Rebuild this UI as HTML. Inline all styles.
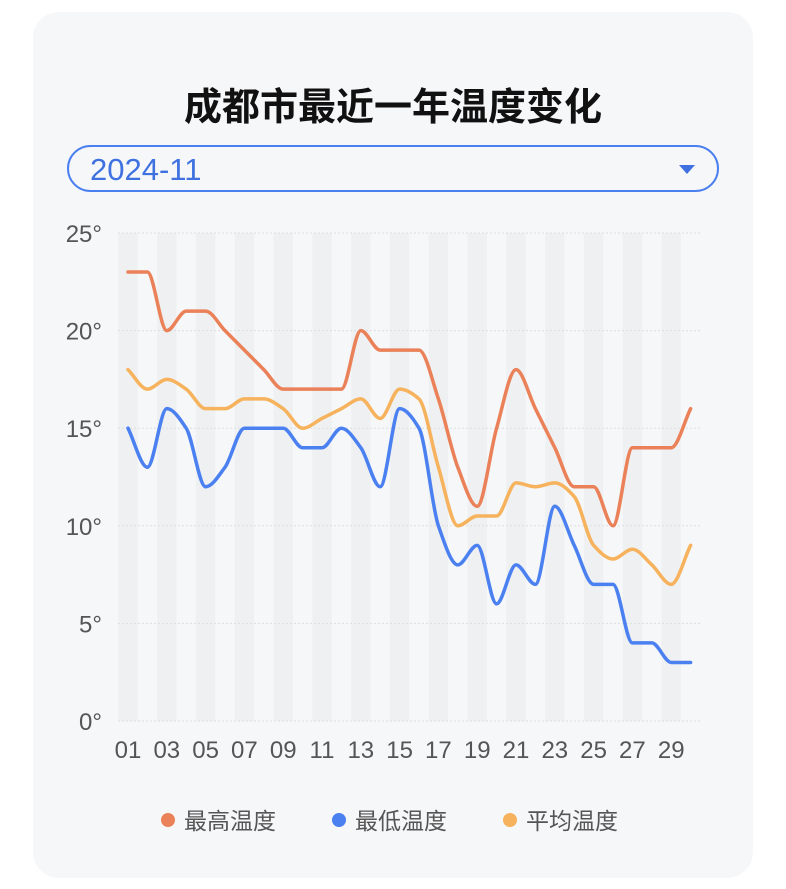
<!DOCTYPE html>
<html><head><meta charset="utf-8"><style>
body{margin:0;width:786px;height:889px;background:#fff;font-family:"Liberation Sans","Noto Sans CJK SC",sans-serif;overflow:hidden}
.card{position:absolute;left:33px;top:12px;width:720px;height:866px;background:#f6f7f9;border-radius:26px}
.title{position:absolute;left:0;top:76px;width:786px;text-align:center;font-size:38px;font-weight:bold;color:#111}
.dd{position:absolute;left:67px;top:145px;height:47px;border:2px solid #4a7ff0;border-radius:24px;box-sizing:border-box;width:652px}
.dd span{position:absolute;left:21px;top:5px;font-size:31px;color:#3f72e0}
.dd i{position:absolute;right:22px;top:18px;border-left:8px solid transparent;border-right:8px solid transparent;border-top:9px solid #3f72e0}
svg{position:absolute;left:0;top:0}
</style></head><body>
<div class="card"></div>
<div class="title">成都市最近一年温度变化</div>
<div class="dd"><span>2024-11</span><i></i></div>
<svg id="s" width="786" height="889" font-family="Liberation Sans, Noto Sans CJK SC, sans-serif"></svg>
<script>
var s=document.getElementById('s'),h='';
function X(d){return 128+(d-1)*19.4}
function Y(v){return 721-v*19.52}
for(var d=1;d<=30;d+=2)h+='<rect x="'+(X(d)-9.7)+'" y="233" width="19.4" height="488" fill="#eff0f2"/>';
for(var v=0;v<=25;v+=5){h+='<line x1="118" x2="702" y1="'+Y(v)+'" y2="'+Y(v)+'" stroke="#dcdde0" stroke-dasharray="2,2"/>';
h+='<text x="102" y="'+(Y(v)+9)+'" font-size="24" fill="#555" text-anchor="end">'+v+'°</text>';}
for(var d=1;d<=29;d+=2)h+='<text x="'+X(d)+'" y="758" font-size="24" fill="#555" text-anchor="middle">'+(d<10?'0'+d:d)+'</text>';
var mx=[23,23,20,21,21,20,19,18,17,17,17,17,20,19,19,19,16.5,13,11,15,18,16,14,12,12,10,14,14,14,16];
var mn=[15,13,16,15,12,13,15,15,15,14,14,15,14,12,16,15,10,8,9,6,8,7,11,9,7,7,4,4,3,3];
var av=[18,17,17.5,17,16,16,16.5,16.5,16,15,15.5,16,16.5,15.5,17,16.5,13,10,10.5,10.5,12.2,12,12.2,11.5,9,8.3,8.8,8,7,9];
function path(a,c){var p=a.map(function(v,i){return[X(i+1),Y(v)]});var n=p.length,hh=19.4;
var dl=[],m=[];for(var i=0;i<n-1;i++)dl.push((p[i+1][1]-p[i][1])/hh);
m[0]=dl[0];m[n-1]=dl[n-2];
for(var i=1;i<n-1;i++){if(dl[i-1]*dl[i]<=0)m[i]=0;else m[i]=2/(1/dl[i-1]+1/dl[i]);}
var d='M'+p[0];
for(var i=0;i<n-1;i++){d+=' C'+(p[i][0]+hh/3)+','+(p[i][1]+m[i]*hh/3)+' '+(p[i+1][0]-hh/3)+','+(p[i+1][1]-m[i+1]*hh/3)+' '+p[i+1];}
return '<path d="'+d+'" fill="none" stroke="'+c+'" stroke-width="3.5" stroke-linecap="round" stroke-linejoin="round"/>';}
h+=path(mx,'#ea8158')+path(mn,'#4b80f1')+path(av,'#f6b25c');
var L=[[168,'#ea8158','最高温度'],[339,'#4b80f1','最低温度'],[510,'#f6b25c','平均温度']];
L.forEach(function(l){h+='<circle cx="'+l[0]+'" cy="820" r="7" fill="'+l[1]+'"/><text x="'+(l[0]+16)+'" y="829" font-size="23" fill="#555">'+l[2]+'</text>'});
s.innerHTML=h;
</script>
</body></html>
